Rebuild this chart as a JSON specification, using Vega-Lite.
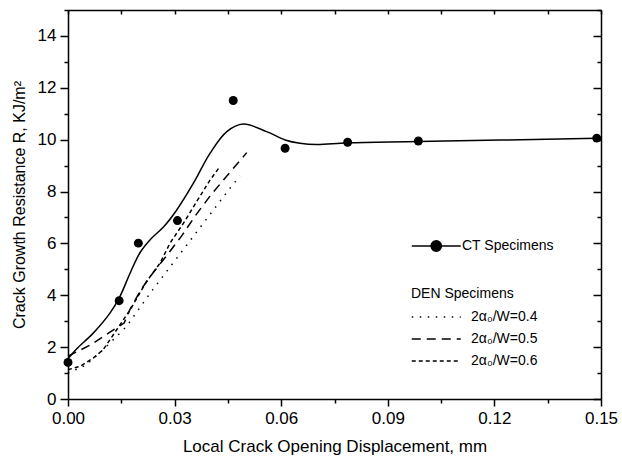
{
  "$schema": "https://vega.github.io/schema/vega-lite/v6.json",
  "width": 533,
  "height": 389,
  "autosize": "none",
  "padding": {"left": 68, "top": 10, "right": 21, "bottom": 61},
  "background": "white",
  "config": {
    "view": {"stroke": null},
    "font": "Liberation Sans",
    "axis": {
      "domainColor": "black", "domainWidth": 1.5, "tickColor": "black", "tickWidth": 1.5,
      "labelColor": "black", "labelFont": "Liberation Sans", "labelFontSize": 17,
      "titleColor": "black", "titleFont": "Liberation Sans", "titleFontSize": 16, "titleFontWeight": "normal",
      "grid": false
    },
    "legend": {
      "labelFont": "Liberation Sans", "labelFontSize": 14, "labelColor": "black",
      "titleFont": "Liberation Sans", "titleFontSize": 14, "titleFontWeight": "normal", "titleColor": "black",
      "padding": 0
    }
  },
  "datasets": {
    "ctfit": [
      {"x": 0, "y": 1.55}, {"x": 0.0024, "y": 1.93}, {"x": 0.0071, "y": 2.54}, {"x": 0.0118, "y": 3.31},
      {"x": 0.0146, "y": 3.95}, {"x": 0.0175, "y": 4.86}, {"x": 0.0203, "y": 5.65}, {"x": 0.0235, "y": 6.2},
      {"x": 0.0268, "y": 6.62}, {"x": 0.0306, "y": 7.29}, {"x": 0.0353, "y": 8.32}, {"x": 0.04, "y": 9.48},
      {"x": 0.0447, "y": 10.31}, {"x": 0.0493, "y": 10.6}, {"x": 0.0559, "y": 10.31},
      {"x": 0.0611, "y": 9.99}, {"x": 0.0653, "y": 9.86}, {"x": 0.07, "y": 9.81}, {"x": 0.0787, "y": 9.88},
      {"x": 0.0986, "y": 9.93}, {"x": 0.149, "y": 10.05}
    ],
    "ctpts": [
      {"x": 0.0, "y": 1.41, "series": "CT Specimens"}, {"x": 0.0144, "y": 3.79, "series": "CT Specimens"},
      {"x": 0.0198, "y": 6.01, "series": "CT Specimens"}, {"x": 0.0308, "y": 6.88, "series": "CT Specimens"},
      {"x": 0.0465, "y": 11.51, "series": "CT Specimens"}, {"x": 0.0611, "y": 9.67, "series": "CT Specimens"},
      {"x": 0.0787, "y": 9.9, "series": "CT Specimens"}, {"x": 0.0986, "y": 9.95, "series": "CT Specimens"},
      {"x": 0.1488, "y": 10.06, "series": "CT Specimens"}
    ],
    "den": [
      {"s": "2α₀/W=0.4", "x": 0, "y": 1.0}, {"s": "2α₀/W=0.4", "x": 0.005, "y": 1.3}, {"s": "2α₀/W=0.4", "x": 0.0099, "y": 1.9},
      {"s": "2α₀/W=0.4", "x": 0.0165, "y": 2.8}, {"s": "2α₀/W=0.4", "x": 0.0231, "y": 4.08}, {"s": "2α₀/W=0.4", "x": 0.0306, "y": 5.43},
      {"s": "2α₀/W=0.4", "x": 0.0381, "y": 6.78}, {"s": "2α₀/W=0.4", "x": 0.0456, "y": 8.13}, {"s": "2α₀/W=0.4", "x": 0.0484, "y": 8.6},
      {"s": "2α₀/W=0.5", "x": 0, "y": 1.65}, {"s": "2α₀/W=0.5", "x": 0.0064, "y": 2.09}, {"s": "2α₀/W=0.5", "x": 0.0118, "y": 2.58},
      {"s": "2α₀/W=0.5", "x": 0.0158, "y": 2.93}, {"s": "2α₀/W=0.5", "x": 0.0175, "y": 3.47}, {"s": "2α₀/W=0.5", "x": 0.0205, "y": 4.21},
      {"s": "2α₀/W=0.5", "x": 0.024, "y": 4.88}, {"s": "2α₀/W=0.5", "x": 0.0276, "y": 5.5}, {"s": "2α₀/W=0.5", "x": 0.032, "y": 6.29},
      {"s": "2α₀/W=0.5", "x": 0.0358, "y": 7.06}, {"s": "2α₀/W=0.5", "x": 0.04, "y": 7.83}, {"s": "2α₀/W=0.5", "x": 0.0447, "y": 8.6},
      {"s": "2α₀/W=0.5", "x": 0.0503, "y": 9.5},
      {"s": "2α₀/W=0.6", "x": 0, "y": 1.13}, {"s": "2α₀/W=0.6", "x": 0.0034, "y": 1.26}, {"s": "2α₀/W=0.6", "x": 0.0071, "y": 1.58},
      {"s": "2α₀/W=0.6", "x": 0.0099, "y": 1.9}, {"s": "2α₀/W=0.6", "x": 0.0137, "y": 2.67}, {"s": "2α₀/W=0.6", "x": 0.0175, "y": 3.44},
      {"s": "2α₀/W=0.6", "x": 0.0221, "y": 4.53}, {"s": "2α₀/W=0.6", "x": 0.0259, "y": 5.24}, {"s": "2α₀/W=0.6", "x": 0.0287, "y": 6.01},
      {"s": "2α₀/W=0.6", "x": 0.0325, "y": 6.78}, {"s": "2α₀/W=0.6", "x": 0.0362, "y": 7.61}, {"s": "2α₀/W=0.6", "x": 0.04, "y": 8.45},
      {"s": "2α₀/W=0.6", "x": 0.0428, "y": 8.97}
    ]
  },
  "layer": [
    {
      "data": {"name": "ctfit"},
      "mark": {"type": "line", "color": "black", "strokeWidth": 1.5, "interpolate": "catmull-rom"},
      "encoding": {
        "x": {"field": "x", "type": "quantitative", "scale": {"domain": [0, 0.15], "nice": false, "zero": false},
          "axis": {"orient": "bottom", "title": "Local Crack Opening Displacement, mm", "titleFontSize": 17,
            "values": [0, 0.015, 0.03, 0.045, 0.06, 0.075, 0.09, 0.105, 0.12, 0.135, 0.15],
            "tickSize": {"condition": {"test": "round(datum.value*1000) % 30 === 0", "value": 7}, "value": 4},
            "labelExpr": "round(datum.value*1000) % 30 === 0 ? format(datum.value, '.2f') : ''",
            "labelPadding": 4, "titlePadding": 12, "labelFlush": false, "labelOverlap": false}},
        "y": {"field": "y", "type": "quantitative", "scale": {"domain": [0, 15], "nice": false},
          "axis": {"orient": "left", "title": "Crack Growth Resistance R, KJ/m²",
            "values": [0, 1, 2, 3, 4, 5, 6, 7, 8, 9, 10, 11, 12, 13, 14, 15],
            "tickSize": {"condition": {"test": "datum.value % 2 === 0", "value": 8}, "value": 4},
            "labelExpr": "(datum.value % 2 === 0 && datum.value <= 14) ? datum.label : ''",
            "labelPadding": 4, "titlePadding": 10, "labelFlush": false, "labelOverlap": false}}
      }
    },
    {
      "data": {"name": "den"},
      "mark": {"type": "line", "color": "black", "strokeWidth": 1.5},
      "encoding": {
        "x": {"field": "x", "type": "quantitative",
          "axis": {"orient": "top", "title": null, "labels": false,
            "values": [0, 0.015, 0.03, 0.045, 0.06, 0.075, 0.09, 0.105, 0.12, 0.135, 0.15], "tickSize": -4}},
        "y": {"field": "y", "type": "quantitative",
          "axis": {"orient": "right", "title": null, "labels": false,
            "values": [0, 1, 2, 3, 4, 5, 6, 7, 8, 9, 10, 11, 12, 13, 14, 15],
            "tickSize": {"condition": {"test": "datum.value % 2 === 0", "value": -8}, "value": -4}}},
        "strokeDash": {"field": "s", "type": "nominal",
          "scale": {"domain": ["2α₀/W=0.4", "2α₀/W=0.5", "2α₀/W=0.6"], "range": [[1.5, 6.5], [9, 6], [4, 3]]},
          "legend": {"title": "DEN Specimens", "orient": "none", "legendX": 343, "legendY": 277,
            "symbolType": "M-1,0L3,0", "symbolSize": 600, "symbolStrokeWidth": 1.5, "symbolStrokeColor": "black",
            "labelOffset": 34, "titlePadding": 3, "rowPadding": 2}}
      }
    },
    {
      "data": {"name": "ctpts"},
      "mark": {"type": "circle", "size": 80, "opacity": 1},
      "encoding": {
        "x": {"field": "x", "type": "quantitative", "axis": null},
        "y": {"field": "y", "type": "quantitative", "axis": null},
        "color": {"field": "series", "type": "nominal", "scale": {"range": ["black"]},
          "legend": {"title": null, "orient": "none", "legendX": 343, "legendY": 223,
            "symbolType": "M-1,0L3,0M1.42,0A0.42,0.42,0,1,1,0.58,0A0.42,0.42,0,1,1,1.42,0Z", "symbolSize": 600,
            "symbolStrokeColor": "black", "symbolStrokeWidth": 1.5, "symbolFillColor": "black", "labelOffset": 25}}
      }
    }
  ],
  "resolve": {"axis": {"x": "independent", "y": "independent"}}
}
